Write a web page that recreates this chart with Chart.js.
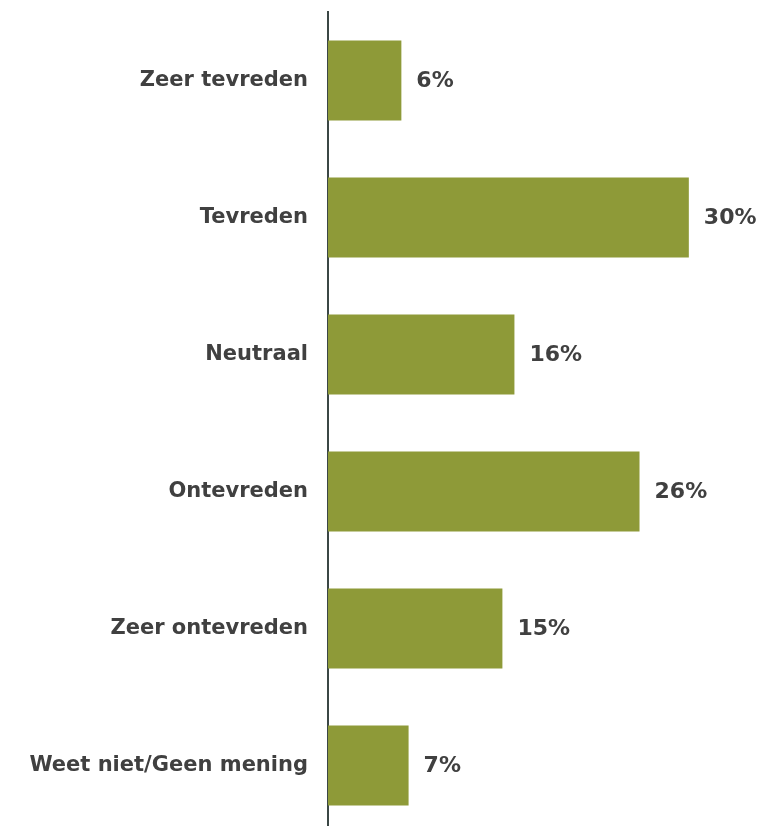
<!DOCTYPE html>
<html>
<head>
<meta charset="utf-8">
<script src="https://cdn.jsdelivr.net/npm/chart.js@4"></script>
<style>
  html, body { margin: 0; padding: 0; background: #fff; overflow: hidden; }
  #box { width: 763px; height: 834px; position: relative; }
</style>
</head>
<body>
<div id="box"><canvas id="c"></canvas></div>
<script>
const categories = ['Zeer tevreden', 'Tevreden', 'Neutraal', 'Ontevreden',
                    'Zeer ontevreden', 'Weet niet/Geen mening'];
const shares = [6.1, 30, 15.5, 25.9, 14.5, 6.7];

const FONT = '"DejaVu Sans", Verdana, sans-serif';
const TXT = '#404040';

// Waardelabels rechts naast de balk.
const valueLabels = {
  id: 'valueLabels',
  afterDatasetsDraw(ch) {
    const { ctx } = ch;
    const meta = ch.getDatasetMeta(0);
    ctx.save();
    ctx.fillStyle = TXT;
    ctx.font = 'bold 22px ' + FONT;
    ctx.textAlign = 'left';
    ctx.textBaseline = 'middle';
    meta.data.forEach((bar, i) => {
      ctx.fillText(Math.round(shares[i]) + '%', bar.x + 15, bar.y + 1);
    });
    ctx.restore();
  },
};

new Chart(document.getElementById('c'), {
  type: 'bar',
  data: {
    labels: categories,
    datasets: [{
      data: shares,
      backgroundColor: '#8e9a38',
      borderWidth: 0,
      barPercentage: 0.585,
      categoryPercentage: 1,
    }],
  },
  options: {
    indexAxis: 'y',
    responsive: true, maintainAspectRatio: false, animation: false,
    layout: { padding: { top: 12, right: 2, bottom: 0, left: 0 } },
    scales: {
      x: { display: false, min: 0, max: 36 },
      y: {
        grid: { display: false, drawTicks: false },
        border: { display: true, color: '#3b4745', width: 2 },
        ticks: { color: TXT, font: { family: FONT, size: 21, weight: 'bold' }, padding: 20 },
        // feste Breite, und keine Extra-Polsterung fuer die aeusseren Labels
        afterFit(s) { s.width = 328; s.paddingTop = 0; s.paddingBottom = 0; },
      },
    },
    plugins: { legend: { display: false }, tooltip: { enabled: false } },
  },
  plugins: [valueLabels],
});
</script>
</body>
</html>
